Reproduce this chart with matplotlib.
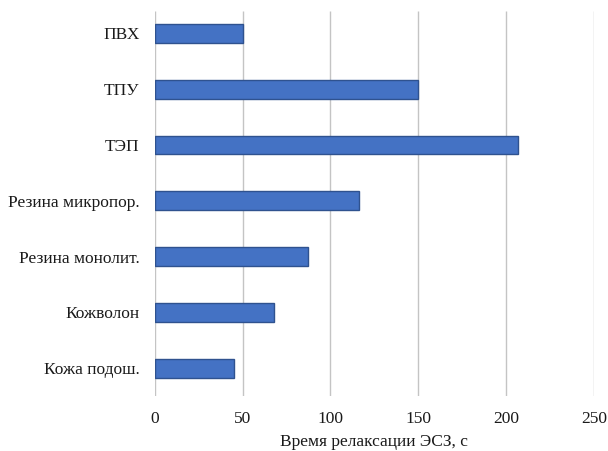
import matplotlib.pyplot as plt

# Relaxation time of the electrostatic charge for sole materials
materials = [
    "ПВХ",
    "ТПУ",
    "ТЭП",
    "Резина микропор.",
    "Резина монолит.",
    "Кожволон",
    "Кожа подош.",
]
relax_time = [50, 150, 207, 116, 87, 68, 45]
x_ticks = [0, 50, 100, 150, 200, 250]

plt.rcParams["font.family"] = ["Liberation Serif", "DejaVu Serif"]
plt.rcParams["font.size"] = 12.5

fig = plt.figure(figsize=(6.08, 4.51), dpi=100)
ax = fig.add_axes([0.2544, 0.122, 0.7225, 0.8656])

pos = list(range(len(materials)))
ax.barh(pos, relax_time, height=0.34, color="#4472C4",
        edgecolor="#2F528F", linewidth=1.0, zorder=3)

ax.set_xlim(0, 250)
ax.set_ylim(len(materials) - 0.5, -0.5)
ax.set_xticks(x_ticks)
ax.set_yticks(pos)
ax.set_yticklabels(materials)

# vertical grid lines stop a little short of the top edge
ax.vlines(x_ticks, -0.4, len(materials) - 0.5, color="#C4C4C4",
          linewidth=1.0, zorder=1)

for s in ax.spines.values():
    s.set_visible(False)
ax.tick_params(axis="both", length=0, colors="#1a1a1a")
ax.tick_params(axis="y", pad=11)
ax.tick_params(axis="x", pad=11)
ax.set_xlabel("Время релаксации ЭСЗ, с", color="#1a1a1a", labelpad=5)

fig.savefig("out.png", dpi=100)
